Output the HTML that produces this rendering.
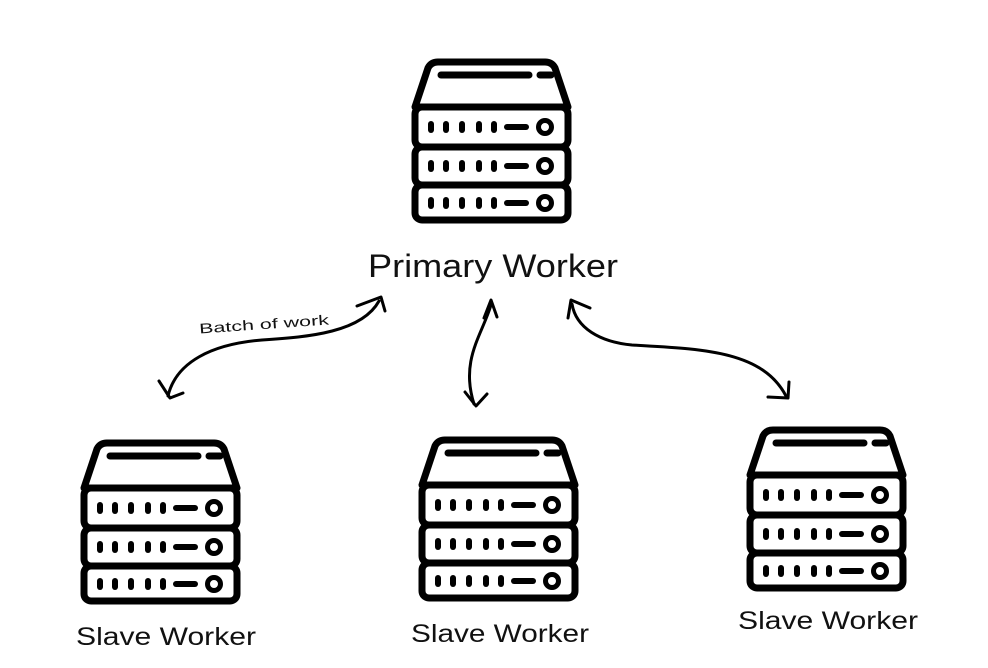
<!DOCTYPE html>
<html><head><meta charset="utf-8"><style>
html,body{margin:0;padding:0;background:#fff;}
svg{display:block}
text{font-family:"Liberation Sans",sans-serif;fill:#111}
</style></head><body>
<svg width="988" height="668" viewBox="0 0 988 668" xmlns="http://www.w3.org/2000/svg">
<defs>
<g id="srv" fill="none" stroke="#000" stroke-linecap="round" stroke-linejoin="round">
  <path d="M4,49 L17,10 Q20,4 27,4 L134,4 Q141,4 144,10 L157,49 Z" stroke-width="7"/>
  <rect x="4" y="49" width="153" height="40" rx="7" stroke-width="7"/>
  <rect x="4" y="89" width="153" height="38" rx="7" stroke-width="7"/>
  <rect x="4" y="127" width="153" height="35" rx="7" stroke-width="7"/>
  <line x1="30" y1="17" x2="118" y2="17" stroke-width="7"/>
  <line x1="129" y1="17" x2="140" y2="17" stroke-width="7"/>
  <g id="row" stroke-width="6">
    <line x1="20" y1="66" x2="20" y2="72"/><line x1="35" y1="66" x2="35" y2="72"/>
    <line x1="51" y1="66" x2="51" y2="72"/><line x1="68" y1="66" x2="68" y2="72"/>
    <line x1="83" y1="66" x2="83" y2="72"/>
    <line x1="96" y1="69" x2="115" y2="69"/>
    <circle cx="134" cy="69" r="6.5" stroke-width="5"/>
  </g>
  <use href="#row" transform="translate(0,39)"/>
  <use href="#row" transform="translate(0,76)"/>
</g>
</defs>

<use href="#srv" transform="translate(411,58)"/>
<use href="#srv" transform="translate(80,439)"/>
<use href="#srv" transform="translate(418,436)"/>
<use href="#srv" transform="translate(746,426)"/>

<text x="368" y="277" font-size="32" textLength="250" lengthAdjust="spacingAndGlyphs">Primary Worker</text>
<text x="76" y="645" font-size="25" textLength="180" lengthAdjust="spacingAndGlyphs">Slave Worker</text>
<text x="411" y="642" font-size="25" textLength="178" lengthAdjust="spacingAndGlyphs">Slave Worker</text>
<text x="738" y="629" font-size="25" textLength="180" lengthAdjust="spacingAndGlyphs">Slave Worker</text>
<text x="199" y="329" font-size="14" textLength="130" lengthAdjust="spacingAndGlyphs" transform="rotate(-4 264 324)">Batch of work</text>

<g fill="none" stroke="#000" stroke-width="3" stroke-linecap="round" stroke-linejoin="round">
  <path d="M379,301 C362,332 310,337 262,340 C212,344 176,362 168,396"/>
  <path d="M357,306 L381,297 L385,311"/>
  <path d="M159,381 L170,398 L183,393"/>

  <path d="M491,305 C482,335 460,360 474,404"/>
  <path d="M484,318 L491,300 L497,317"/>
  <path d="M465,392 L476,406 L487,394"/>

  <path d="M572,304 C576,328 600,342 632,345 C700,349 762,350 786,396"/>
  <path d="M568,318 L571,300 L590,308"/>
  <path d="M768,397 L788,398 L789,382"/>
</g>
</svg>
</body></html>
